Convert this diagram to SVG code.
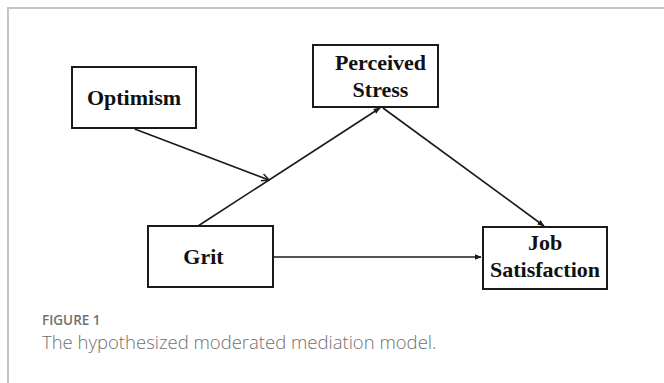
<svg xmlns="http://www.w3.org/2000/svg" width="664" height="383" viewBox="0 0 664 383">
<style>
.box{fill:#fff;stroke:#1a1a1a;stroke-width:2}
.lbl{font-family:"Liberation Serif","Times New Roman",serif;font-weight:bold;font-size:22px;fill:#111;text-anchor:middle}
.edge{stroke:#1a1a1a;stroke-width:1.6;fill:none}
.cap1{font-family:"Open Sans","Noto Sans",sans-serif;font-weight:600;font-size:13.5px;fill:#707070}
.cap2{font-family:"Open Sans","Noto Sans",sans-serif;font-weight:300;font-size:18.5px;fill:#707070}
</style>
<defs>
<marker id="ah" viewBox="0 0 10 10" refX="9" refY="5" markerWidth="7" markerHeight="7" markerUnits="userSpaceOnUse" orient="auto">
<path d="M0,1 L10,5 L0,9 z" fill="#1a1a1a"/>
</marker>
<marker id="av" viewBox="0 0 10 10" refX="9" refY="5" markerWidth="9" markerHeight="9" markerUnits="userSpaceOnUse" orient="auto">
<path d="M1,1 L9,5 L1,9" fill="none" stroke="#1a1a1a" stroke-width="1.6"/>
</marker>
</defs>
<rect width="664" height="383" fill="#fff"/>
<path d="M8,383 V8 H664" fill="none" stroke="#c4c4c4" stroke-width="2"/>
<g id="connectors">
<line class="edge" x1="198" y1="226" x2="380" y2="108" marker-end="url(#ah)"/>
<line class="edge" x1="134.7" y1="129" x2="269" y2="180" marker-end="url(#av)"/>
<line class="edge" x1="383" y1="108" x2="544" y2="226" marker-end="url(#ah)"/>
<line class="edge" x1="273" y1="257" x2="481" y2="257" marker-end="url(#ah)"/>
</g>
<g id="optimism">
<rect class="box" x="72" y="67" width="124" height="61"/>
<text class="lbl" x="134" y="105">Optimism</text>
</g>
<g id="perceived-stress">
<rect class="box" x="313" y="45" width="125" height="62"/>
<text class="lbl" x="380.5" y="70">Perceived</text>
<text class="lbl" x="380.5" y="97">Stress</text>
</g>
<g id="grit">
<rect class="box" x="148" y="226" width="125" height="61"/>
<text class="lbl" x="203.5" y="264">Grit</text>
</g>
<g id="job-satisfaction">
<rect class="box" x="483" y="227" width="124" height="62"/>
<text class="lbl" x="545" y="250">Job</text>
<text class="lbl" x="545" y="277">Satisfaction</text>
</g>
<text class="cap1" x="42" y="325">FIGURE 1</text>
<text class="cap2" x="42" y="349">The hypothesized moderated mediation model.</text>
</svg>
